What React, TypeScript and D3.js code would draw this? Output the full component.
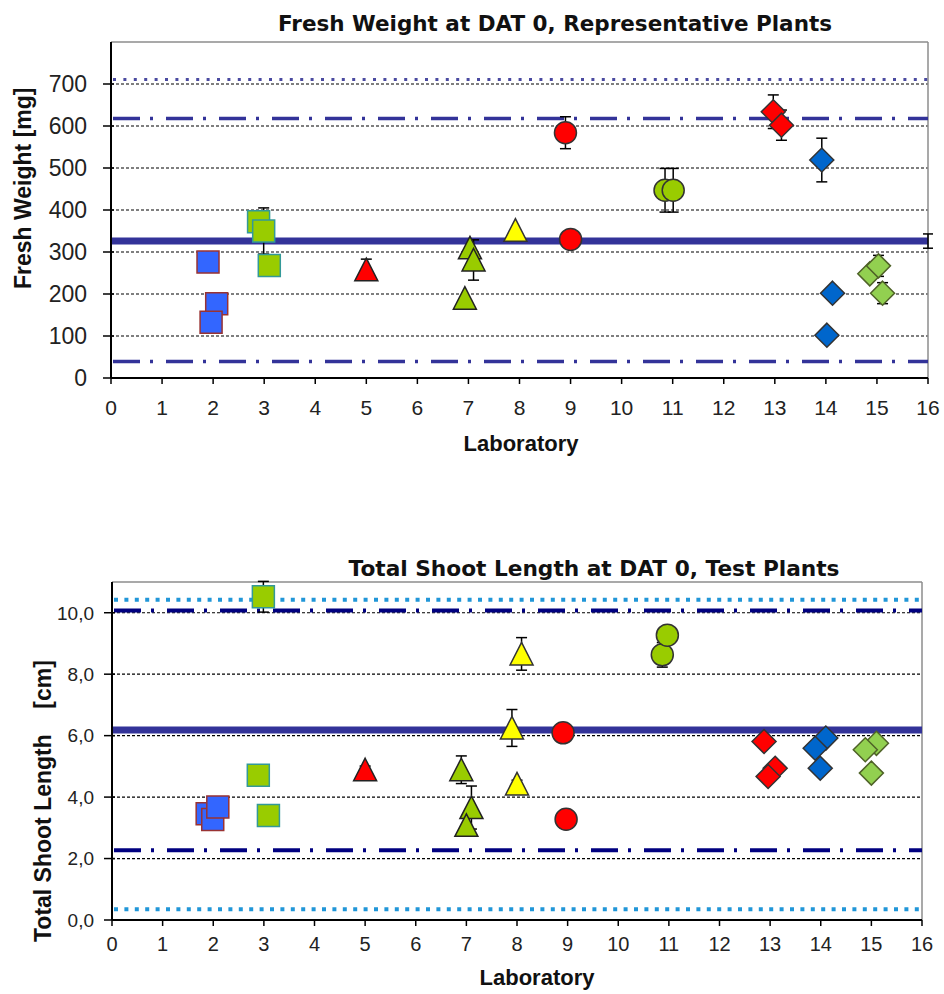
import React from 'react';
import * as d3 from 'd3';

type Pt = [number, number, number?];
type Shape = 'square' | 'triangle' | 'circle' | 'diamond';
interface Series { shape: Shape; fill: string; stroke: string; pts: Pt[]; }

const W = 944;
const H = 994;

// ---------- Laboratory axis ----------
const labTicks = [0, 1, 2, 3, 4, 5, 6, 7, 8, 9, 10, 11, 12, 13, 14, 15, 16];

// ---------- Fresh weight (top) ----------
const fwTicks = [0, 100, 200, 300, 400, 500, 600, 700];
const fwBlueSquares: Pt[] = [[1.9, 276], [2.07, 177], [1.96, 133]];
const fwGreenSquares: Pt[] = [[2.89, 372], [2.99, 350, 55], [3.1, 268]];
const fwRedTriangles: Pt[] = [[5.0, 258, 25]];
const fwGreenTriangles: Pt[] = [[7.03, 310], [7.1, 281, 48], [6.93, 190]];
const fwYellowTriangles: Pt[] = [[7.92, 352]];
const fwRedCircles: Pt[] = [[8.9, 584, 38], [9.0, 330]];
const fwGreenCircles: Pt[] = [[10.85, 447, 52], [11.01, 447, 52]];
const fwRedDiamonds: Pt[] = [[12.97, 634, 40], [13.13, 602, 36]];
const fwBlueDiamonds: Pt[] = [[13.92, 519, 52], [14.13, 202], [14.02, 102]];
const fwLightGreenDiamonds: Pt[] = [[14.86, 248], [15.03, 267, 25], [15.11, 202, 25]];
const fwMean = [326];
const fwMeanErr = [17];
const fwDashDot = [618, 39];
const fwDotted = [711];

// ---------- Total shoot length (bottom) ----------
const slTicks = [0, 2, 4, 6, 8, 10];
const slBlueSquares: Pt[] = [[1.88, 3.46], [1.99, 3.27], [2.09, 3.68]];
const slGreenSquares: Pt[] = [[2.99, 10.52, 0.5], [2.89, 4.71], [3.09, 3.4]];
const slRedTriangles: Pt[] = [[5.0, 4.89, 0.12]];
const slGreenTriangles: Pt[] = [[6.9, 4.89, 0.45], [7.1, 3.66, 0.7], [7.0, 3.08]];
const slYellowTriangles: Pt[] = [[8.0, 4.43, 0.12], [8.09, 8.66, 0.53], [7.9, 6.25, 0.6]];
const slRedCircles: Pt[] = [[8.91, 6.09], [8.97, 3.28]];
const slGreenCircles: Pt[] = [[10.87, 8.63, 0.4], [10.97, 9.27]];
const slRedDiamonds: Pt[] = [[12.88, 5.81], [13.1, 4.94], [12.96, 4.67]];
const slBlueDiamonds: Pt[] = [[14.1, 5.92], [13.89, 5.59], [13.99, 4.94]];
const slLightGreenDiamonds: Pt[] = [[15.1, 5.75], [14.88, 5.54], [15.0, 4.78]];
const slMean = [6.18];
const slDashDot = [10.07, 2.27];
const slDotted = [10.42, 0.35];

const commaLocale = d3.formatLocale({ decimal: ',', thousands: '.', grouping: [3], currency: ['', ''] });
const fmtComma = commaLocale.format('.1f');

function markerPath(shape: Shape, cx: number, cy: number): string {
  if (shape === 'square') {
    const s = 11;
    return `M${cx - s},${cy - s}h${2 * s}v${2 * s}h${-2 * s}Z`;
  }
  if (shape === 'triangle') {
    return `M${cx},${cy - 11.5}L${cx + 11.5},${cy + 11}L${cx - 11.5},${cy + 11}Z`;
  }
  const d = 12;
  return `M${cx},${cy - d}L${cx + d},${cy}L${cx},${cy + d}L${cx - d},${cy}Z`;
}

interface ChartProps {
  left: number; right: number; top: number; bottom: number;
  yMax: number; yTicks: number[]; yFmt: (v: number) => string;
  series: Series[];
  mean: number[]; meanErr: number[]; meanColor: string;
  dashDot: number[]; dashDotColor: string; dashDotWidth: number;
  dotted: number[]; dottedColor: string; dottedWidth: number;
  title: string; titleX: number; titleY: number; titleLen: number;
  yLabel: string; yLabelX: number; yLabelY: number;
  xLabelX: number; xLabelY: number;
  yTickFont: number; xTickFont: number; yTickLabelX: number; xTickLabelY: number;
}

const Chart: React.FC<ChartProps> = (p) => {
  const x = d3.scaleLinear().domain([0, 16]).range([p.left, p.right]);
  const y = d3.scaleLinear().domain([0, p.yMax]).range([p.bottom, p.top]);
  const tickColor = '#222';
  return (
    <g>
      {p.yTicks.filter((t) => t > 0).map((t) => (
        <line key={'g' + t} x1={p.left} x2={p.right} y1={y(t)} y2={y(t)} stroke="#000" strokeWidth={1.2} strokeDasharray="3,2" />
      ))}
      <line x1={p.left} x2={p.right} y1={p.top} y2={p.top} stroke="#8c8c8c" strokeWidth={1.5} />
      <line x1={p.right} x2={p.right} y1={p.top} y2={p.bottom} stroke="#8c8c8c" strokeWidth={1.5} />
      {p.dotted.map((v, i) => (
        <line key={'do' + i} x1={p.left + 2} x2={p.right} y1={y(v)} y2={y(v)} stroke={p.dottedColor} strokeWidth={p.dottedWidth} strokeDasharray={`${p.dottedWidth},${10.4 - p.dottedWidth}`} />
      ))}
      {p.dashDot.map((v, i) => (
        <line key={'dd' + i} x1={p.left + 2} x2={p.right} y1={y(v)} y2={y(v)} stroke={p.dashDotColor} strokeWidth={p.dashDotWidth} strokeDasharray="27,10,3,13" />
      ))}
      {p.mean.map((v, i) => (
        <line key={'m' + i} x1={p.left} x2={p.right} y1={y(v)} y2={y(v)} stroke={p.meanColor} strokeWidth={7} />
      ))}
      {p.meanErr.map((e, i) => (
        <g key={'me' + i} stroke="#000" strokeWidth={1.5}>
          <line x1={x(16)} x2={x(16)} y1={y(p.mean[i] - e)} y2={y(p.mean[i] + e)} />
          <line x1={x(16) - 5} x2={x(16) + 5} y1={y(p.mean[i] - e)} y2={y(p.mean[i] - e)} />
          <line x1={x(16) - 5} x2={x(16) + 5} y1={y(p.mean[i] + e)} y2={y(p.mean[i] + e)} />
        </g>
      ))}
      <line x1={p.left} x2={p.left} y1={p.top} y2={p.bottom} stroke="#000" strokeWidth={2} />
      <line x1={p.left} x2={p.right} y1={p.bottom} y2={p.bottom} stroke="#000" strokeWidth={2} />
      {p.yTicks.map((t) => (
        <g key={'yt' + t}>
          <line x1={p.left - 8} x2={p.left + 3} y1={y(t)} y2={y(t)} stroke="#000" strokeWidth={1.5} />
          <text x={p.yTickLabelX} y={y(t)} dy="0.36em" textAnchor="end" fontFamily="'Liberation Sans', Arial, sans-serif" fontSize={p.yTickFont} fill={tickColor}>{p.yFmt(t)}</text>
        </g>
      ))}
      {labTicks.map((t) => (
        <g key={'xt' + t}>
          <line x1={x(t)} x2={x(t)} y1={p.bottom} y2={p.bottom + 6} stroke="#000" strokeWidth={1.5} />
          <text x={x(t)} y={p.xTickLabelY} textAnchor="middle" fontFamily="'Liberation Sans', Arial, sans-serif" fontSize={p.xTickFont} fill={tickColor}>{t}</text>
        </g>
      ))}
      {p.series.map((s, si) => s.pts.filter((pt) => pt[2] !== undefined).map((pt, pi) => {
        const cx = x(pt[0]);
        const e = pt[2] as number;
        const y1 = y(pt[1] - e), y2 = y(pt[1] + e);
        return (
          <g key={`e${si}-${pi}`} stroke="#000" strokeWidth={1.5}>
            <line x1={cx} x2={cx} y1={y1} y2={y2} />
            <line x1={cx - 5.5} x2={cx + 5.5} y1={y1} y2={y1} />
            <line x1={cx - 5.5} x2={cx + 5.5} y1={y2} y2={y2} />
          </g>
        );
      }))}
      {p.series.map((s, si) => s.pts.map((pt, pi) => {
        const cx = x(pt[0]);
        const cy = y(pt[1]);
        if (s.shape === 'circle') {
          return <circle key={`c${si}-${pi}`} cx={cx} cy={cy} r={11} fill={s.fill} stroke={s.stroke} strokeWidth={1.5} />;
        }
        return <path key={`p${si}-${pi}`} d={markerPath(s.shape, cx, cy)} fill={s.fill} stroke={s.stroke} strokeWidth={1.5} strokeLinejoin="miter" />;
      }))}
      <text x={p.titleX} y={p.titleY} textAnchor="middle" fontFamily="'DejaVu Sans', Verdana, sans-serif" fontWeight="bold" fontSize={21} textLength={p.titleLen} lengthAdjust="spacingAndGlyphs" fill="#111">{p.title}</text>
      <text transform={`translate(${p.yLabelX},${p.yLabelY}) rotate(-90)`} textAnchor="start" fontFamily="'Liberation Sans', Arial, sans-serif" fontWeight="bold" fontSize={23} fill="#111" style={{ whiteSpace: 'pre' }}>{p.yLabel}</text>
      <text x={p.xLabelX} y={p.xLabelY} textAnchor="middle" fontFamily="'Liberation Sans', Arial, sans-serif" fontWeight="bold" fontSize={22} fill="#111">Laboratory</text>
    </g>
  );
};

function buildSeries(a: Pt[][]): Series[] {
  const styles: [Shape, string, string][] = [
    ['square', '#3366FF', '#993333'],
    ['square', '#99CC00', '#339999'],
    ['triangle', '#FF0000', '#222'],
    ['triangle', '#99CC00', '#222'],
    ['triangle', '#FFFF00', '#333'],
    ['circle', '#FF0000', '#333'],
    ['circle', '#99CC00', '#333'],
    ['diamond', '#FF0000', '#333'],
    ['diamond', '#0066CC', '#333'],
    ['diamond', '#92D050', '#4F6228'],
  ];
  return styles.map((st, i) => ({ shape: st[0], fill: st[1], stroke: st[2], pts: a[i] }));
}

const fwSeries = buildSeries([
  fwBlueSquares, fwGreenSquares, fwRedTriangles, fwGreenTriangles, fwYellowTriangles,
  fwRedCircles, fwGreenCircles, fwRedDiamonds, fwBlueDiamonds, fwLightGreenDiamonds,
]);
const slSeries = buildSeries([
  slBlueSquares, slGreenSquares, slRedTriangles, slGreenTriangles, slYellowTriangles,
  slRedCircles, slGreenCircles, slRedDiamonds, slBlueDiamonds, slLightGreenDiamonds,
]);

export default function App() {
  return (
    <svg width={W} height={H} style={{ display: 'block', position: 'absolute', left: 0, top: 0, background: '#fff' }}>
      <rect width={W} height={H} fill="#fff" />
      <Chart
        left={111} right={928} top={42} bottom={378}
        yMax={800} yTicks={fwTicks} yFmt={(v) => String(v)}
        series={fwSeries}
        mean={fwMean} meanErr={fwMeanErr} meanColor="#333399"
        dashDot={fwDashDot} dashDotColor="#333399" dashDotWidth={3.5}
        dotted={fwDotted} dottedColor="#4a4aa0" dottedWidth={3}
        title="Fresh Weight at DAT 0, Representative Plants" titleX={555} titleY={31} titleLen={554}
        yLabel="Fresh Weight [mg]" yLabelX={31} yLabelY={289}
        xLabelX={521} xLabelY={451}
        yTickFont={23} xTickFont={21} yTickLabelX={87} xTickLabelY={415}
      />
      <Chart
        left={112} right={922} top={582} bottom={920}
        yMax={11} yTicks={slTicks} yFmt={(v) => fmtComma(v)}
        series={slSeries}
        mean={slMean} meanErr={[]} meanColor="#333399"
        dashDot={slDashDot} dashDotColor="#000080" dashDotWidth={4}
        dotted={slDotted} dottedColor="#2196D8" dottedWidth={4}
        title="Total Shoot Length at DAT 0, Test Plants" titleX={594} titleY={576} titleLen={491}
        yLabel="Total Shoot Length    [cm]" yLabelX={51} yLabelY={942}
        xLabelX={537} xLabelY={985}
        yTickFont={19} xTickFont={20} yTickLabelX={94} xTickLabelY={951}
      />
    </svg>
  );
}
